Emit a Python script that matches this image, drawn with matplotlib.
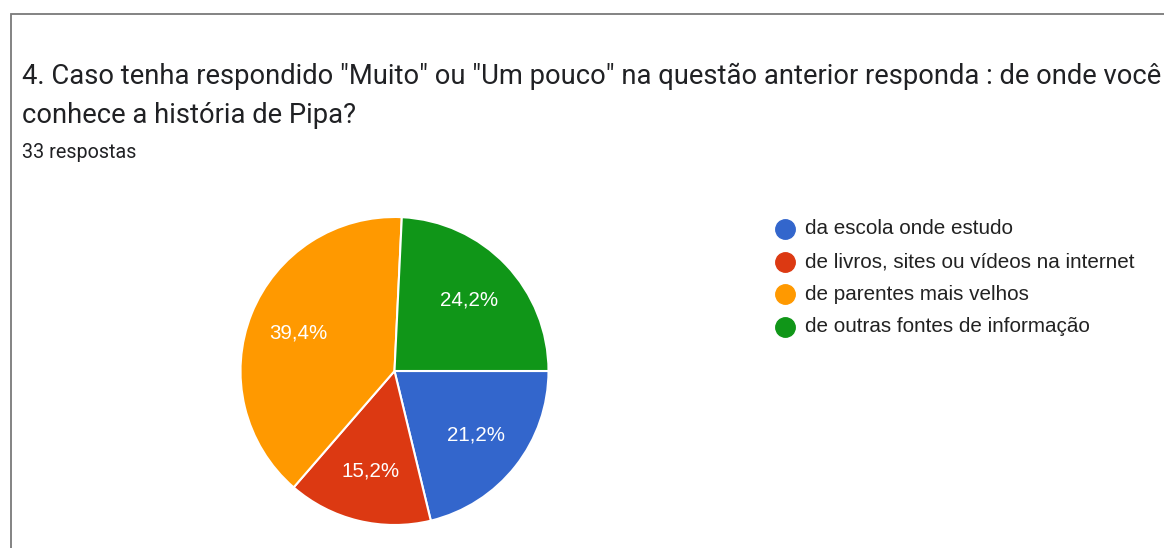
import matplotlib.pyplot as plt
from matplotlib.lines import Line2D
from matplotlib.patches import Rectangle

# data (33 answers)
categories = ["da escola onde estudo",
              "de livros, sites ou vídeos na internet",
              "de parentes mais velhos",
              "de outras fontes de informação"]
counts = [7, 5, 13, 8]
colors = ["#3366CC", "#DC3912", "#FF9900", "#109618"]
title_lines = ["4. Caso tenha respondido \"Muito\" ou \"Um pouco\" na questão anterior responda : de onde você",
               "conhece a história de Pipa?"]
subtitle = "33 respostas"

W, H = 1164, 548
fig = plt.figure(figsize=(W / 100, H / 100), dpi=100)


def fx(px):
    return px / W


def fy(py):
    return 1 - py / H


# card border (top and left edges visible)
fig.add_artist(Rectangle((fx(11), fy(600)), fx(1300), fy(14) - fy(600),
                         transform=fig.transFigure, fill=False,
                         edgecolor="#7a7a7a", linewidth=1.3))

fig.text(fx(22), fy(84), title_lines[0], fontsize=19.7, family="Roboto",
         color="#202124", va="baseline")
fig.text(fx(22), fy(123), title_lines[1], fontsize=19.7, family="Roboto",
         color="#202124", va="baseline")
fig.text(fx(22), fy(158), subtitle, fontsize=14.2, family="Roboto",
         color="#202124", va="baseline")

# pie
cx, cy, r = 394.5, 371, 154
ax = fig.add_axes([fx(cx - r), fy(cy + r), fx(2 * r), fy(cy - r) - fy(cy + r)])
total = sum(counts)


def fmt(p):
    return ("%.1f%%" % p).replace(".", ",")


wedges, texts, autotexts = ax.pie(counts, colors=colors, startangle=0,
                                  counterclock=False, autopct=fmt,
                                  pctdistance=0.67,
                                  wedgeprops=dict(edgecolor="white", linewidth=1.5),
                                  textprops=dict(color="white", fontsize=14.8,
                                                 family="Liberation Sans"))
ax.set_xlim(-1, 1)
ax.set_ylim(-1, 1)
ax.set_aspect("equal")
ax.axis("off")

# legend
for i, (lab, col) in enumerate(zip(categories, colors)):
    y = 229 + i * 32.5
    fig.add_artist(Line2D([fx(785)], [fy(y)], marker="o", markersize=14,
                          color=col, transform=fig.transFigure))
    fig.text(fx(805), fy(y), lab, fontsize=14.9, family="Liberation Sans",
             color="#222222", va="center")

fig.savefig("out.png", dpi=100)
